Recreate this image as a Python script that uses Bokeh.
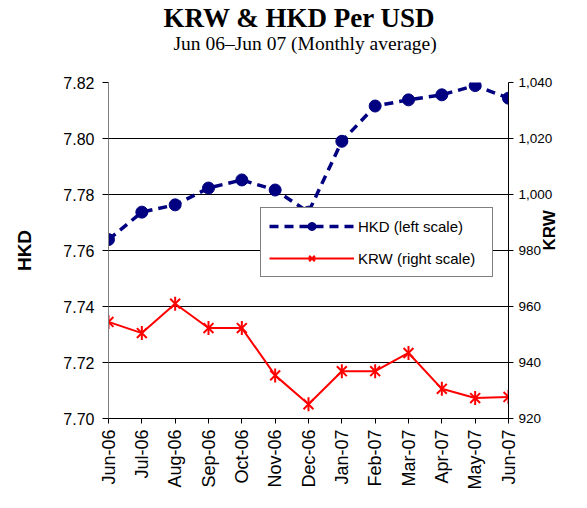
import math
from bokeh.plotting import figure
from bokeh.models import (Range1d, LinearAxis, FixedTicker, PrintfTickFormatter,
                          NumeralTickFormatter, Legend, LegendItem, Title, ColumnDataSource)
from bokeh.embed import file_html
from bokeh.resources import INLINE

# ---- data ----
months = ["Jun-06", "Jul-06", "Aug-06", "Sep-06", "Oct-06", "Nov-06", "Dec-06",
          "Jan-07", "Feb-07", "Mar-07", "Apr-07", "May-07", "Jun-07"]
hkd = [7.7639, 7.7737, 7.7763, 7.7823, 7.7852, 7.7816, 7.7737,
       7.7990, 7.8116, 7.8138, 7.8156, 7.8189, 7.8144]
krw = [954.5, 950.5, 961.0, 952.3, 952.3, 935.4, 925.1,
       936.9, 936.9, 943.4, 930.6, 927.3, 927.7]
hkd_ticks = [7.70, 7.72, 7.74, 7.76, 7.78, 7.80, 7.82]
krw_ticks = [920, 940, 960, 980, 1000, 1020, 1040]
title_text = "KRW & HKD Per USD"
subtitle_text = "Jun 06\u2013Jun 07 (Monthly average)"
hkd_axis_title = "HKD"
krw_axis_title = "KRW"
hkd_label = "HKD (left scale)"
krw_label = "KRW (right scale)"

x_idx = list(range(len(months)))
src = ColumnDataSource(data=dict(x=x_idx, hkd=hkd, krw=krw, ang=[math.pi / 2] * len(months)))

SANS = "Liberation Sans"
SERIF = "Liberation Serif"

p = figure(width=571, height=492, output_backend="svg", toolbar_location=None,
           title=None,
           x_range=Range1d(x_idx[0], x_idx[-1]),
           y_range=Range1d(hkd_ticks[0], hkd_ticks[-1]),
           min_border_left=108, min_border_right=58,
           min_border_top=81, min_border_bottom=72)
p.extra_y_ranges = {"krw": Range1d(krw_ticks[0], krw_ticks[-1])}
p.outline_line_color = None
p.background_fill_color = "white"
p.border_fill_color = "white"

# titles: stacked from the plot outward (spacer, subtitle, title)
p.add_layout(Title(text=" ", text_font=SANS, text_font_size="1px", standoff=28), "above")
p.add_layout(Title(text=subtitle_text, align="left", offset=65, standoff=-4,
                   text_font=SERIF, text_font_size="19.5px", text_font_style="normal",
                   text_color="black"), "above")
p.add_layout(Title(text=title_text, align="left", offset=55, standoff=0,
                   text_font=SERIF, text_font_size="27px", text_font_style="bold",
                   text_color="black"), "above")

# grid
p.xgrid.visible = False
p.ygrid.ticker = FixedTicker(ticks=hkd_ticks)
p.ygrid.grid_line_color = "black"
p.ygrid.grid_line_width = 1

# x axis
xa = p.xaxis[0]
xa.ticker = FixedTicker(ticks=x_idx)
xa.major_label_overrides = {i: m for i, m in zip(x_idx, months)}
xa.major_label_orientation = math.pi / 2
xa.major_label_text_font = SANS
xa.major_label_text_font_size = "18px"
xa.major_label_text_color = "black"
xa.major_label_standoff = 6
xa.major_tick_out = 5
xa.major_tick_in = 0
xa.minor_tick_line_color = None
xa.axis_line_color = "black"
xa.major_tick_line_color = "black"

# left axis
ya = p.yaxis[0]
ya.ticker = FixedTicker(ticks=hkd_ticks)
ya.formatter = PrintfTickFormatter(format="%.2f")
ya.major_label_text_font = SANS
ya.major_label_text_font_size = "16px"
ya.major_label_text_color = "black"
ya.major_label_standoff = 8
ya.major_tick_out = 6
ya.major_tick_in = 0
ya.minor_tick_line_color = None
ya.axis_line_color = "#808080"
ya.major_tick_line_color = "black"
ya.axis_label = hkd_axis_title
ya.axis_label_text_font = SANS
ya.axis_label_text_font_size = "19px"
ya.axis_label_text_font_style = "bold"
ya.axis_label_text_color = "black"
ya.axis_label_standoff = 25

# right axis (ticks + labels)
ra = LinearAxis(y_range_name="krw", ticker=FixedTicker(ticks=krw_ticks),
                formatter=NumeralTickFormatter(format="0,0"))
ra.major_label_text_font = SANS
ra.major_label_text_font_size = "13.5px"
ra.major_label_text_color = "black"
ra.major_label_standoff = 5
ra.major_tick_out = 5
ra.major_tick_in = 0
ra.minor_tick_line_color = None
ra.axis_line_color = "black"
ra.major_tick_line_color = "black"
p.add_layout(ra, "right")

# right axis title, carried by a label-only axis
rb = LinearAxis(y_range_name="krw", ticker=FixedTicker(ticks=[]))
rb.axis_line_color = None
rb.major_tick_line_color = None
rb.minor_tick_line_color = None
rb.major_tick_out = 0
rb.major_tick_in = 0
rb.axis_label = krw_axis_title
rb.axis_label_orientation = math.pi / 2
rb.axis_label_text_font = SANS
rb.axis_label_text_font_size = "17px"
rb.axis_label_text_font_style = "bold"
rb.axis_label_text_color = "black"
rb.axis_label_standoff = -6
p.add_layout(rb, "right")

# series
navy = "#000080"
red = "#FF0000"
hkd_line = p.line("x", "hkd", source=src, line_color=navy, line_width=3.5, line_dash="9 6")
hkd_pts = p.scatter("x", "hkd", source=src, marker="circle", size=12,
                    fill_color=navy, line_color=navy)
krw_line = p.line("x", "krw", source=src, y_range_name="krw", line_color=red, line_width=2)
krw_x = p.scatter("x", "krw", source=src, y_range_name="krw", marker="x", size=14,
                  line_color=red, line_width=2)
krw_v = p.scatter("x", "krw", source=src, y_range_name="krw", marker="dash", size=14,
                  angle="ang", line_color=red, line_width=2)

legend = Legend(items=[LegendItem(label=hkd_label, renderers=[hkd_line, hkd_pts]),
                       LegendItem(label=krw_label, renderers=[krw_line, krw_x, krw_v])],
                location=(152, 141))
legend.label_text_font = SANS
legend.label_text_font_size = "15px"
legend.label_text_color = "black"
legend.border_line_color = "black"
legend.border_line_width = 1
legend.background_fill_color = "white"
legend.background_fill_alpha = 1
legend.padding = 8
legend.spacing = 12
legend.margin = 0
legend.glyph_width = 85
legend.glyph_height = 20
legend.label_height = 20
legend.label_standoff = 4
legend.label_width = 126
p.add_layout(legend)

open("out.html", "w").write(file_html(p, INLINE))
